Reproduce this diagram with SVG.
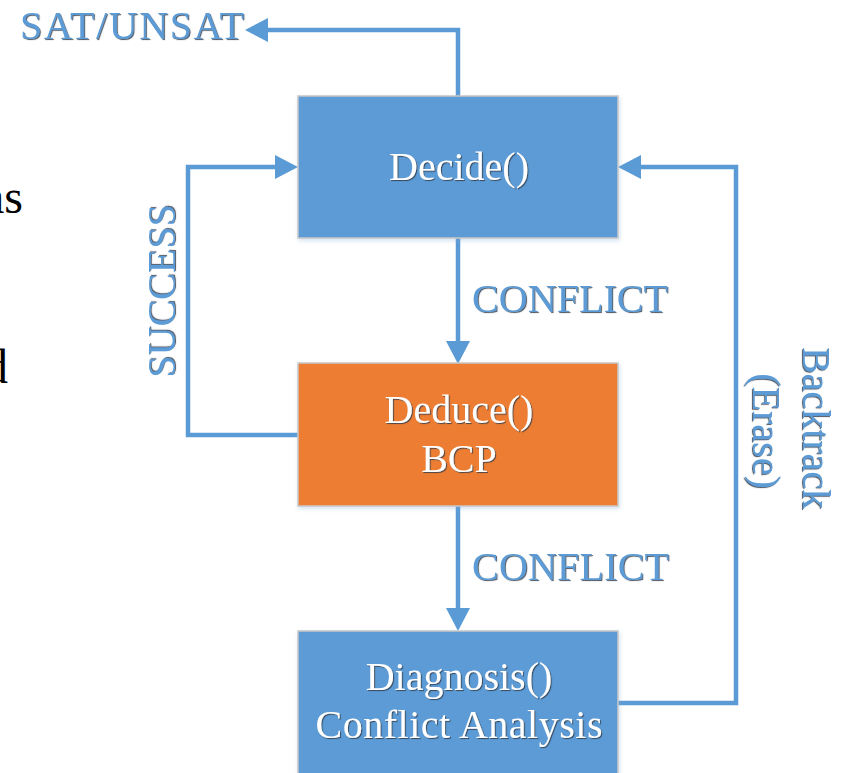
<svg xmlns="http://www.w3.org/2000/svg" width="842" height="773" viewBox="0 0 842 773">
  <style>
    .box { stroke: #C8C8C8; stroke-width: 1.5; filter: url(#boxShadow); }
    .blue { fill: #5B9BD5; }
    .orange { fill: #ED7D31; }
    .node-text { font-family: "Liberation Serif", "Times New Roman", serif; font-size: 40px; fill: #FFFFFF; text-anchor: middle; filter: url(#textShadow); }
    .label { font-family: "Liberation Serif", "Times New Roman", serif; font-size: 40px; fill: #5B9BD5; filter: url(#textShadow); }
    .body-text { font-family: "Liberation Serif", "Times New Roman", serif; font-size: 48px; fill: #000000; text-anchor: end; }
    .conn { fill: none; stroke: #5B9BD5; stroke-width: 4.5; stroke-linejoin: miter; }
  </style>
  <defs>
    <marker id="arrow" markerUnits="userSpaceOnUse" markerWidth="24" markerHeight="26" refX="0" refY="13" orient="auto">
      <path d="M0,1 L23,13 L0,25 z" fill="#5B9BD5"/>
    </marker>
    <filter id="textShadow" x="-10%" y="-20%" width="120%" height="140%">
      <feDropShadow dx="1.1" dy="1.1" stdDeviation="0.4" flood-color="#2F3B4A" flood-opacity="0.8"/>
    </filter>
    <filter id="boxShadow" x="-5%" y="-5%" width="110%" height="115%">
      <feDropShadow dx="1" dy="2" stdDeviation="2" flood-color="#7FA7D0" flood-opacity="0.35"/>
    </filter>
  </defs>

  <!-- body text running in from the left margin -->
  <text class="body-text" x="23" y="213">as</text>
  <text class="body-text" x="8" y="383">d</text>

  <!-- connectors -->
  <g id="connectors">
    <path class="conn" d="M458,96 V30 H268" marker-end="url(#arrow)"/>
    <path class="conn" d="M458,238 V341" marker-end="url(#arrow)"/>
    <path class="conn" d="M298,435 H188 V167 H275" marker-end="url(#arrow)"/>
    <path class="conn" d="M458,506 V608" marker-end="url(#arrow)"/>
    <path class="conn" d="M618,703 H736 V167 H641" marker-end="url(#arrow)"/>
  </g>

  <!-- connector labels -->
  <g id="labels">
    <text class="label" x="20" y="39" font-size="41" textLength="224" lengthAdjust="spacing">SAT/UNSAT</text>
    <text class="label" x="472" y="312" textLength="196" lengthAdjust="spacing">CONFLICT</text>
    <text class="label" x="472" y="580" textLength="197" lengthAdjust="spacing">CONFLICT</text>
    <text class="label" text-anchor="middle" transform="translate(175,291) rotate(-90)" font-size="42">SUCCESS</text>
    <text class="label" text-anchor="middle" transform="translate(803,428) rotate(90)" font-size="42">Backtrack</text>
    <text class="label" text-anchor="middle" transform="translate(753,431) rotate(90)">(Erase)</text>
  </g>

  <!-- nodes -->
  <g id="decide">
    <rect class="box blue" x="298" y="96" width="320" height="142"/>
    <text class="node-text" x="459" y="180">Decide()</text>
  </g>
  <g id="deduce">
    <rect class="box orange" x="298" y="363" width="320" height="143"/>
    <text class="node-text" x="459" y="423">Deduce()</text>
    <text class="node-text" x="459" y="472">BCP</text>
  </g>
  <g id="diagnosis">
    <rect class="box blue" x="298" y="631" width="320" height="170"/>
    <text class="node-text" x="459" y="690">Diagnosis()</text>
    <text class="node-text" x="459" y="738" textLength="287" lengthAdjust="spacing">Conflict Analysis</text>
  </g>
</svg>
